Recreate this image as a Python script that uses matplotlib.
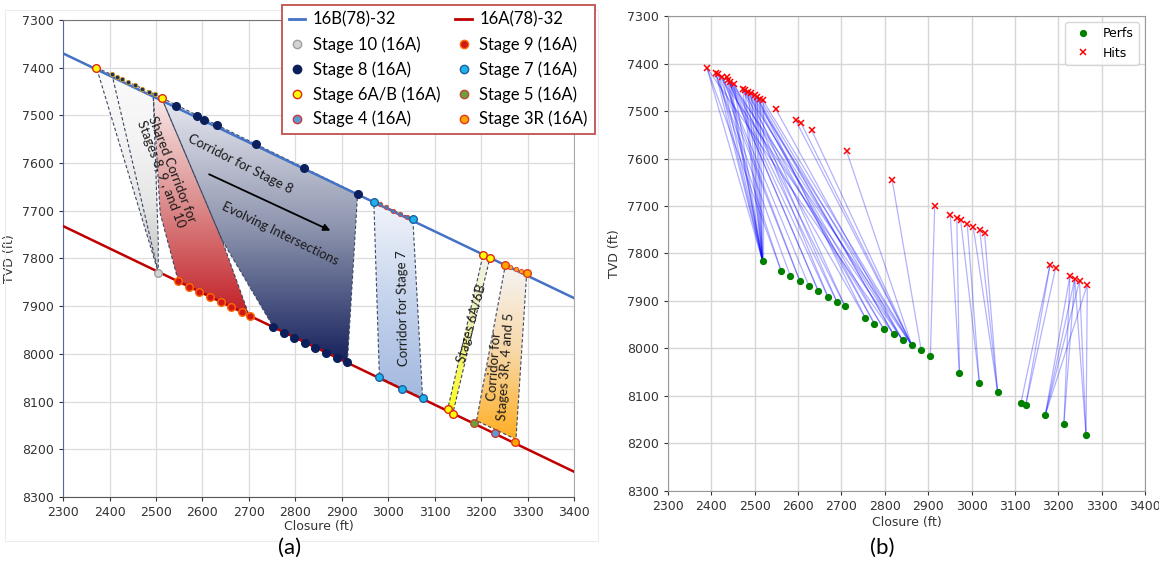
import numpy as np
import matplotlib
matplotlib.use("Agg")
import matplotlib.pyplot as plt
from matplotlib.patches import Polygon, Rectangle
from matplotlib.colors import LinearSegmentedColormap
from matplotlib.lines import Line2D

# ---------------- panel (a): schematic corridors ----------------
well_x = [2300, 3400]
well_16b_y = [7370, 7883]
well_16a_y = [7732, 8247]

# small hit markers along 16B
top_hits_x = [2405, 2416, 2427, 2440, 2455, 2470, 2484, 2497]
top_hits_y = [7414, 7419, 7424, 7430, 7437, 7444, 7450, 7456]
s7_hits_x = [2982, 2996, 3010, 3025, 3040]
s7_hits_y = [7686, 7693, 7700, 7707, 7713]
s3_hits_x = [3263, 3274, 3286]
s3_hits_y = [7818, 7823, 7827]

stage10_x = [2505]
stage10_y = [7829.5]
stage9_x = [2548, 2572, 2593, 2616, 2640, 2662, 2685, 2703]
stage9_y = [7847, 7859, 7870, 7880, 7891, 7901, 7912, 7921]
stage8_x = [2543, 2589, 2604, 2631, 2716, 2819, 2934,
            2753, 2776, 2797, 2820, 2843, 2866, 2889, 2912]
stage8_y = [7480, 7501, 7510, 7521, 7561, 7611, 7665,
            7944, 7956, 7967, 7978, 7988, 7999, 8008, 8018]
stage7_x = [2969, 3053, 2981, 3029, 3074]
stage7_y = [7681, 7717, 8049, 8074, 8093]
stage6_x = [2372, 2512, 3204, 3219, 3128, 3139]
stage6_y = [7400, 7464, 7793, 7798, 8116, 8125]
stage5_x = [3185]
stage5_y = [8144]
stage4_x = [3230]
stage4_y = [8165]
stage3_x = [3252, 3298, 3273]
stage3_y = [7814, 7831, 8185]

# corridor outlines (closure, tvd)
corr10_x = [2372, 2494, 2505, 2505]
corr10_y = [7400, 7454, 7765, 7829]
corr10_inner_x = [2405, 2505]
corr10_inner_y = [7413, 7829]
corr9_x = [2494, 2512, 2642, 2700, 2548, 2509]
corr9_y = [7454, 7463, 7761, 7918, 7847, 7705]
corr8_x = [2512, 2934, 2912, 2753, 2642]
corr8_y = [7463, 7665, 8018, 7944, 7761]
corr7_x = [2969, 3053, 3074, 2981]
corr7_y = [7681, 7717, 8093, 8049]
corr6_x = [3204, 3219, 3139, 3128]
corr6_y = [7793, 7798, 8125, 8116]
corr3_x = [3252, 3298, 3275, 3190]
corr3_y = [7814, 7831, 8179, 8140]

# ---------------- panel (b): perfs and hits ----------------
hits_x = [2390, 2410, 2416, 2425, 2435, 2439, 2443, 2452, 2472, 2477, 2485, 2492,
          2500, 2505, 2512, 2518, 2548, 2594, 2607, 2631, 2712, 2817, 2915, 2951,
          2966, 2975, 2990, 3004, 3019, 3030, 3181, 3194, 3227, 3238, 3249, 3267]
hits_y = [7410, 7421, 7423, 7428, 7428, 7435, 7439, 7444, 7453, 7456, 7460, 7463,
          7467, 7470, 7474, 7476, 7495, 7519, 7526, 7540, 7585, 7646, 7700, 7719,
          7726, 7730, 7738, 7744, 7751, 7756, 7824, 7830, 7847, 7853, 7858, 7866]
perfs_x = [2518, 2561, 2582, 2604, 2625, 2647, 2669, 2690, 2708, 2755, 2776, 2798,
           2820, 2841, 2862, 2884, 2905, 2972, 3018, 3060, 3114, 3125, 3170, 3213, 3264]
perfs_y = [7816, 7837, 7847, 7858, 7868, 7880, 7892, 7903, 7911, 7936, 7948, 7960,
           7970, 7983, 7993, 8004, 8016, 8051, 8072, 8091, 8114, 8119, 8140, 8159, 8183]
# (hit index, perf index)
links = [(0, 0), (1, 0), (2, 0), (3, 0), (4, 0), (5, 0), (6, 0), (7, 0), (8, 0),
         (9, 0), (10, 0), (11, 0), (12, 0), (13, 0), (14, 0), (15, 0),
         (0, 1), (1, 2), (2, 3), (3, 4), (4, 5), (5, 6), (6, 7), (7, 8), (1, 1),
         (3, 3), (5, 5), (8, 6), (9, 7), (10, 8),
         (6, 9), (8, 10), (10, 11), (12, 12), (14, 13), (15, 14), (0, 12), (2, 13),
         (4, 14), (9, 13), (11, 14), (13, 12), (16, 13), (17, 14), (18, 14),
         (19, 14), (20, 14), (21, 15), (22, 16), (7, 11), (11, 10), (13, 9),
         (23, 17), (24, 17), (25, 18), (26, 18), (27, 19), (28, 19), (29, 19),
         (30, 20), (30, 21), (31, 21), (32, 22), (33, 22), (34, 22), (35, 22),
         (32, 23), (33, 23), (34, 24), (35, 24), (33, 24)]

xticks = np.arange(2300, 3401, 100)
yticks = np.arange(7300, 8301, 100)

fig = plt.figure(figsize=(11.59, 5.68), dpi=100)
calib = ['Lato', 'DejaVu Sans']


def corridor(ax, xs, ys, colors):
    cmap = LinearSegmentedColormap.from_list('c', colors)
    poly = Polygon(np.column_stack([xs, ys]), closed=True, facecolor='none',
                   edgecolor='#3b4763', ls=(0, (3, 2)), lw=0.8, zorder=3)
    ax.add_patch(poly)
    img = ax.imshow(np.linspace(0, 1, 256).reshape(-1, 1), cmap=cmap,
                    aspect='auto', origin='lower', zorder=2,
                    extent=(min(xs), max(xs), min(ys), max(ys)))
    img.set_clip_path(poly)


# ---------- (a) ----------
ax = fig.add_axes([0.0544, 0.125, 0.4409, 0.8398])
corridor(ax, corr10_x, corr10_y, ['#fbfbfb', '#f4f4f4', '#e6e6e6', '#c2c2c2'])
ax.plot(corr10_inner_x, corr10_inner_y, color='#3b4763', ls=(0, (3, 2)), lw=0.8, zorder=3)
corridor(ax, corr9_x, corr9_y, ['#f8ecec', '#dc8c8c', '#c21f26'])
corridor(ax, corr8_x, corr8_y, ['#e8eaf1', '#8c93ad', '#16215c'])
corridor(ax, corr7_x, corr7_y, ['#f2f5fb', '#c5d3ec', '#a3b9e0'])
corridor(ax, corr6_x, corr6_y, ['#f3f3ef', '#eef0a0', '#ffff10'])
corridor(ax, corr3_x, corr3_y, ['#f5f5f5', '#f8d8a8', '#ffae22'])

ax.plot(well_x, well_16b_y, color='#4472c4', lw=1.8, zorder=4)
ax.plot(well_x, well_16a_y, color='#c00000', lw=1.8, zorder=4)

ax.plot(top_hits_x, top_hits_y, 'o', ms=3.2, mfc='#1f2d5a', mec='#d0a020', mew=0.6, zorder=5)
ax.plot(s7_hits_x, s7_hits_y, 'o', ms=3.2, mfc='#3a7fc0', mec='#e04030', mew=0.6, zorder=5)
ax.plot(s3_hits_x, s3_hits_y, 'o', ms=3.2, mfc='#ffa020', mec='#e04030', mew=0.6, zorder=5)

styles = [
    ('Stage 10 (16A)', stage10_x, stage10_y, '#d3d3d3', '#a0a0a0'),
    ('Stage 9 (16A)', stage9_x, stage9_y, '#d01818', '#ff6a00'),
    ('Stage 8 (16A)', stage8_x, stage8_y, '#0b1f5c', '#0b1f5c'),
    ('Stage 7 (16A)', stage7_x, stage7_y, '#1eb2ea', '#1f5fa0'),
    ('Stage 6A/B (16A)', stage6_x, stage6_y, '#ffff00', '#e02818'),
    ('Stage 5 (16A)', stage5_x, stage5_y, '#6aa03c', '#c04a30'),
    ('Stage 4 (16A)', stage4_x, stage4_y, '#5b9bd5', '#c83838'),
    ('Stage 3R (16A)', stage3_x, stage3_y, '#ffa500', '#e03a1a'),
]
handles = {}
for name, xs, ys, fc, ec in styles:
    ax.plot(xs, ys, 'o', ms=5.5, mfc=fc, mec=ec, mew=1.0, zorder=6)
    handles[name] = Line2D([], [], ls='none', marker='o', ms=6, mfc=fc, mec=ec, mew=1.0)

ax.annotate('', xy=(2881, 7744), xytext=(2609, 7621),
            arrowprops=dict(arrowstyle='-|>', color='black', lw=1.3), zorder=7)
txt = dict(family=calib, fontsize=9.5, color='#1a1a1a', ha='center', va='center',
           rotation_mode='anchor', zorder=7)
ax.text(2523, 7618, 'Shared Corridor for\nStages 8, 9 , and 10', rotation=-69,
        linespacing=1.0, **txt)
ax.text(2681, 7602, 'Corridor for Stage 8', rotation=-27, **txt)
ax.text(2767, 7747, 'Evolving Intersections', rotation=-26, **txt)
ax.text(3031, 7904, 'Corridor for Stage 7', rotation=91, **txt)
ax.text(3179, 7936, 'Stages 6A/6B', rotation=75, **txt)
ax.text(3241, 8027, 'Corridor for\nStages 3R, 4 and 5', rotation=86,
        linespacing=1.0, **txt)

ax.set_xlim(2300, 3400)
ax.set_ylim(8300, 7300)
ax.set_xticks(xticks)
ax.set_yticks(yticks)
ax.grid(True, color='#dcdcdc', lw=0.9)
ax.set_axisbelow(True)
ax.tick_params(labelsize=9, colors='#333333', length=3)
ax.set_xlabel('Closure (ft)', fontsize=9, color='#333333', labelpad=1)
ax.set_ylabel('TVD (ft)', fontsize=9, color='#333333', labelpad=4)
ax.spines['left'].set_color('#5565b0')
ax.spines['bottom'].set_color('#555555')
ax.spines['top'].set_color('#777777')
ax.spines['right'].set_color('#aaaaaa')

leg_h = [Line2D([], [], color='#4472c4', lw=2), handles['Stage 10 (16A)'],
         handles['Stage 8 (16A)'], handles['Stage 6A/B (16A)'], handles['Stage 4 (16A)'],
         Line2D([], [], color='#c00000', lw=2), handles['Stage 9 (16A)'],
         handles['Stage 7 (16A)'], handles['Stage 5 (16A)'], handles['Stage 3R (16A)']]
leg_l = ['16B(78)-32', 'Stage 10 (16A)', 'Stage 8 (16A)', 'Stage 6A/B (16A)', 'Stage 4 (16A)',
         '16A(78)-32', 'Stage 9 (16A)', 'Stage 7 (16A)', 'Stage 5 (16A)', 'Stage 3R (16A)']
leg = fig.legend(leg_h, leg_l, ncol=2, loc='upper left', bbox_to_anchor=(0.2433, 0.991),
                 prop={'family': calib, 'size': 12}, fancybox=False, framealpha=1,
                 edgecolor='#c0504d', handlelength=1.0, handletextpad=0.45,
                 columnspacing=0.9, labelspacing=0.5, borderpad=0.4, borderaxespad=0)
leg.get_frame().set_linewidth(1.3)
leg.set_zorder(10)

# ---------- (b) ----------
bx = fig.add_axes([0.5764, 0.1356, 0.4115, 0.8362])
for h, p in links:
    bx.plot([hits_x[h], perfs_x[p]], [hits_y[h], perfs_y[p]], color='blue',
            alpha=0.3, lw=0.9, zorder=2)
bx.plot(perfs_x, perfs_y, 'o', color='green', ms=4.2, ls='none', label='Perfs', zorder=3)
bx.plot(hits_x, hits_y, 'x', color='red', ms=4.5, mew=1.1, ls='none', label='Hits', zorder=3)
bx.set_xlim(2300, 3400)
bx.set_ylim(8300, 7300)
bx.set_xticks(xticks)
bx.set_yticks(yticks)
bx.grid(True, color='#d6d6d6', lw=1.0)
bx.set_axisbelow(True)
bx.tick_params(labelsize=9, colors='#333333', length=3)
bx.set_xlabel('Closure (ft)', fontsize=9, color='#333333', labelpad=2)
bx.set_ylabel('TVD (ft)', fontsize=9, color='#333333', labelpad=4)
for s in bx.spines.values():
    s.set_color('#999999')
bx.legend(loc='upper right', fontsize=9, handletextpad=0.6)

fig.patches.append(Rectangle((0.004, 0.048), 0.512, 0.935, transform=fig.transFigure,
                             fill=False, edgecolor='#ececec', lw=0.8))
fig.text(0.25, 0.035, '(a)', family=calib, fontsize=16, ha='center', va='center')
fig.text(0.761, 0.035, '(b)', family=calib, fontsize=16, ha='center', va='center')

fig.savefig('out.png', dpi=100)
